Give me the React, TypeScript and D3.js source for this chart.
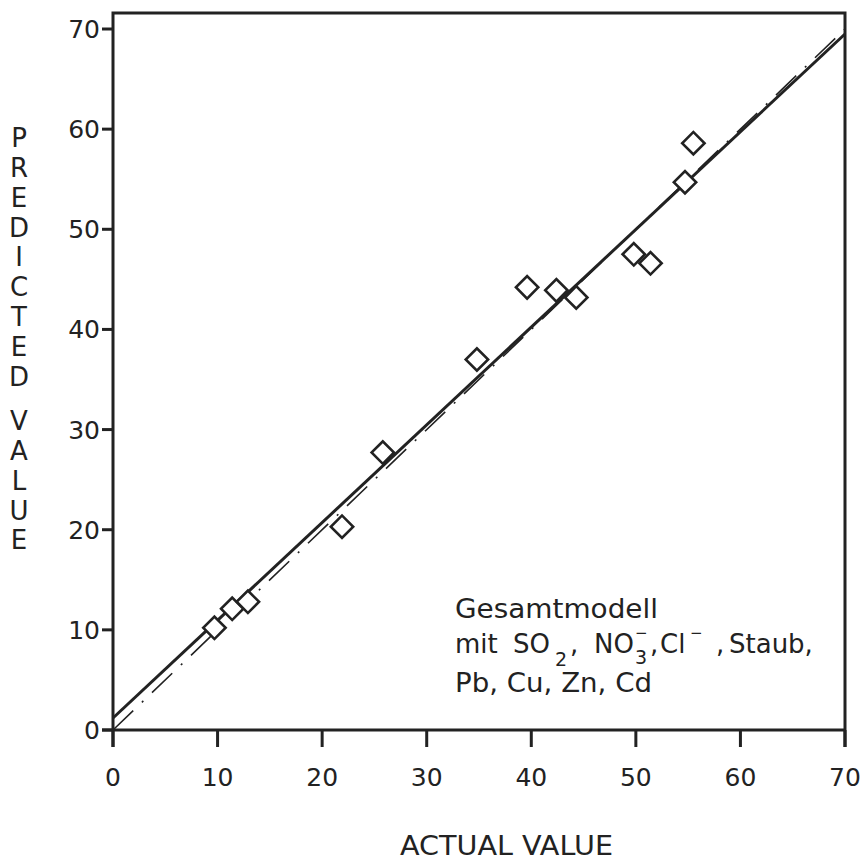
import React from 'react';
import * as d3 from 'd3';

// values
const actualValues = [9.7, 11.4, 12.9, 21.9, 25.8, 34.8, 39.6, 42.4, 44.3, 49.8, 51.4, 54.7, 55.5];
const predictedValues = [10.2, 12.1, 12.8, 20.3, 27.7, 37.0, 44.2, 43.9, 43.2, 47.5, 46.6, 54.7, 58.6];
const fitLine: [number, number][] = [[0, 1.2], [70, 69.5]];
const identityLine: [number, number][] = [[0, 0], [70, 70]];
const tickValues = [0, 10, 20, 30, 40, 50, 60, 70];
const frameTop = 71.6;
const yLabel = 'PREDICTED VALUE';
const xLabel = 'ACTUAL VALUE';

const W = 863;
const H = 860;
const ink = '#222';
const font = '"DejaVu Sans", sans-serif';

const App: React.FC = () => {
  const x = d3.scaleLinear().domain([0, 70]).range([113, 845]);
  const y = d3.scaleLinear().domain([0, 70]).range([730, 29]);
  const line = d3.line<[number, number]>().x(d => x(d[0])).y(d => y(d[1]));
  const diamond = d3.symbol().type(d3.symbolSquare).size(250);

  const points = actualValues.map((a, i) => ({ a, p: predictedValues[i] }));

  // stacked letters, the word gap is a bit wider than one letter step
  const step = (540 - 138) / 13.5;
  let pos = 138;
  const letters: { c: string; y: number }[] = [];
  yLabel.split('').forEach((c, i) => {
    if (c === ' ') {
      pos += step * 0.5;
      return;
    }
    letters.push({ c, y: pos });
    if (i < yLabel.length - 1) pos += step;
  });

  return (
    <div style={{ position: 'absolute', left: 0, top: 0, background: '#fff' }}>
      <svg width={W} height={H} style={{ display: 'block' }}>
        <rect width={W} height={H} fill="#fff" />

        {/* frame */}
        <path
          d={`M${x(0)},${y(0) + 17} V${y(frameTop)} H${x(70)} V${y(0) + 17}`}
          fill="none"
          stroke={ink}
          strokeWidth={3}
        />
        <line x1={x(0) - 11} x2={x(70)} y1={y(0)} y2={y(0)} stroke={ink} strokeWidth={3} />

        {/* ticks */}
        {tickValues.map(t => (
          <g key={'x' + t}>
            <line x1={x(t)} x2={x(t)} y1={y(0)} y2={y(0) + 17} stroke={ink} strokeWidth={3} />
            <text x={x(t)} y={786} textAnchor="middle" fontSize={25} fontFamily={font} fill={ink}>
              {t}
            </text>
          </g>
        ))}
        {tickValues.map(t => (
          <g key={'y' + t}>
            <line x1={x(0) - 11} x2={x(0)} y1={y(t)} y2={y(t)} stroke={ink} strokeWidth={3} />
            <text x={100} y={y(t)} dy="0.36em" textAnchor="end" fontSize={25} fontFamily={font} fill={ink}>
              {t}
            </text>
          </g>
        ))}

        {/* lines */}
        <path d={line(identityLine) || ''} fill="none" stroke={ink} strokeWidth={1.6} strokeDasharray="28,12,2,12" />
        <path d={line(fitLine) || ''} fill="none" stroke={ink} strokeWidth={3} />

        {/* points */}
        {points.map((d, i) => (
          <path
            key={i}
            d={diamond() || ''}
            transform={`translate(${x(d.a)},${y(d.p)}) rotate(45)`}
            fill="#fff"
            stroke={ink}
            strokeWidth={2.6}
          />
        ))}

        {/* annotation */}
        <g fontFamily={font} fill={ink} fontSize={26}>
          <text x={455} y={618} textLength={203} lengthAdjust="spacingAndGlyphs">Gesamtmodell</text>
          <text>
            <tspan x={455} y={653}>mit</tspan>
            <tspan x={513} y={653}>SO</tspan>
            <tspan x={555} y={666} fontSize={19}>2</tspan>
            <tspan x={570} y={653}>,</tspan>
            <tspan x={594} y={653}>NO</tspan>
            <tspan x={635} y={638} fontSize={15}>−</tspan>
            <tspan x={635} y={664} fontSize={19}>3</tspan>
            <tspan x={650} y={653}>,</tspan>
            <tspan x={660} y={653}>Cl</tspan>
            <tspan x={690} y={638} fontSize={15}>−</tspan>
            <tspan x={716} y={653}>,</tspan>
            <tspan x={729} y={653}>Staub,</tspan>
          </text>
          <text x={455} y={692} textLength={197} lengthAdjust="spacingAndGlyphs">Pb, Cu, Zn, Cd</text>
        </g>

        {/* axis titles */}
        <text x={400} y={855} fontSize={26} fontFamily={font} fill={ink} textLength={213} lengthAdjust="spacingAndGlyphs">
          {xLabel}
        </text>
        {letters.map((d, i) => (
          <text
            key={i}
            x={19}
            y={d.y}
            dy="0.36em"
            textAnchor="middle"
            fontSize={26}
            fontFamily={font}
            fill={ink}
          >
            {d.c}
          </text>
        ))}
      </svg>
    </div>
  );
};

export default App;
